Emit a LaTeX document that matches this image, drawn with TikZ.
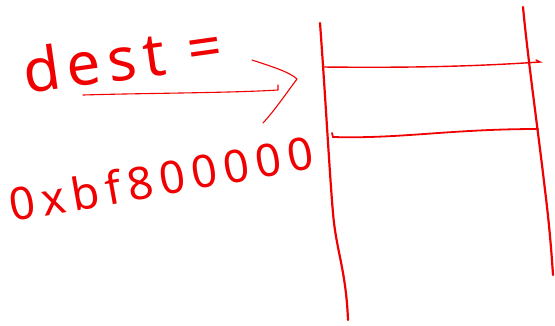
\documentclass[tikz,border=0pt]{standalone}
\usepackage{fontspec}
\setmainfont{Noto Sans}
\definecolor{ink}{RGB}{240,0,0}
\begin{document}
\begin{tikzpicture}[x=1pt,y=-1pt,
  thin ink/.style={draw=ink,line width=1.1pt,line cap=round,line join=round},
  thick ink/.style={draw=ink,line width=2.2pt,line cap=round,line join=round},
  label text/.style={text=ink,inner sep=0pt,anchor=base west}]
\useasboundingbox (0,0) rectangle (555,325);
% text
\node[label text,rotate=8,font=\fontsize{60}{60}\selectfont\addfontfeature{LetterSpace=12}] (dest) at (26,94)
  {dest =};
\node[label text,rotate=10,font=\fontsize{45}{45}\selectfont\addfontfeature{LetterSpace=15}] (addr) at (12,222)
  {0xbf800000};
% arrow
\coordinate (a0) at (83,95);
\coordinate (a1) at (278,90);
\coordinate (h0) at (252,60);
\coordinate (h1) at (297,79);
\coordinate (h2) at (263,123);
\draw[thin ink] (a0) .. controls (150,93) and (230,93) .. (a1) -- (278,85);
\draw[thin ink] (h0) .. controls (270,66) and (290,72) .. (h1) .. controls (285,95) and (275,110) .. (h2);
% memory block
\coordinate (l0) at (320,23);
\coordinate (l1) at (348,320);
\coordinate (r0) at (523,7);
\coordinate (r1) at (553,275);
\draw[thick ink] (l0) .. controls (325,90) and (330,180) .. (333,213)
  .. controls (336,250) and (346,270) .. (l1);
\draw[thick ink] (r0) .. controls (528,60) and (538,130) .. (545,190)
  .. controls (550,230) and (552,260) .. (r1);
\coordinate (m0) at (323,67);
\coordinate (m1) at (540,62);
\draw[draw=ink,line width=1.4pt,line cap=round] (m0) .. controls (420,68) and (480,66) .. (m1) -- (536,60);
\coordinate (n0) at (332,133);
\coordinate (n1) at (538,129);
\draw[draw=ink,line width=1.8pt,line cap=round] (n0) -- (333,137) .. controls (400,139) and (450,129) .. (n1);
\end{tikzpicture}
\end{document}
